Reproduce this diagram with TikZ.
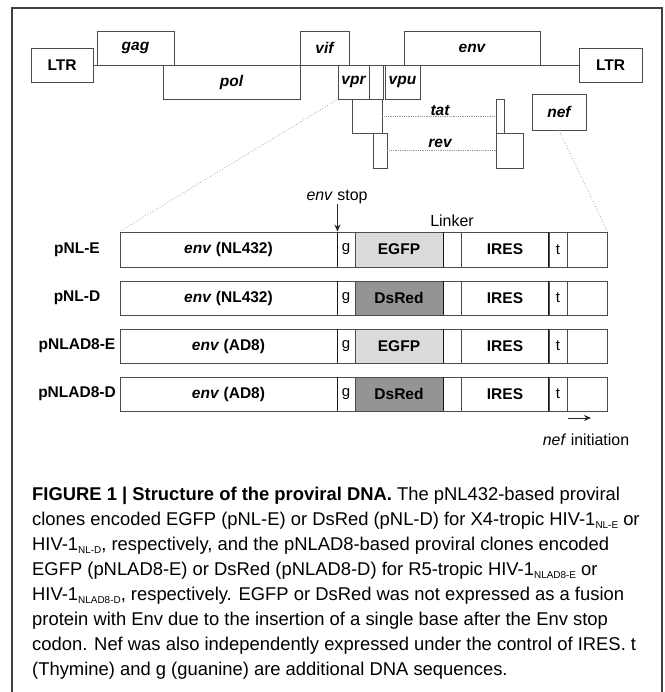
\documentclass[tikz,border=0pt]{standalone}
\usepackage{fontspec}
\setmainfont{Liberation Sans}
\usetikzlibrary{arrows.meta}
\newsavebox\capsbox
\newlength\capsw
\newcommand\capfont{\fontsize{18.5}{21}\selectfont}
\newcommand\labfont{\fontsize{15.5}{17}\selectfont\bfseries}
\newcommand\smfont{\fontsize{16}{18}\selectfont}
\newcommand\gtfont{\fontsize{15}{17}\selectfont}
\newcommand\sbs[1]{\raisebox{-0.4ex}{\fontsize{10}{10}\selectfont #1}}
\newcommand\cl[1]{\scalebox{\capsc}[1]{\capfont #1}}
\newcommand\sml[1]{\scalebox{\capsc}[1]{\smfont #1}}
% #1 options, #2 name, #3 x1, #4 y1, #5 x2, #6 y2, #7 text
\newcommand\bx[7][]{\node[gene,#1,minimum width={(#5-#3)*1pt},minimum height={(#6-#4)*1pt}] (#2) at ({(#3+#5)/2},{(#4+#6)/2}) {#7};}
\begin{document}
\sbox\capsbox{\capfont codon. Nef was also independently expressed under the control of IRES. t}%
\setlength\capsw{\wd\capsbox}%
\pgfmathsetmacro\capsc{604/\capsw}%
\begin{tikzpicture}[x=1pt,y=-1pt,
  gene/.style={draw=black!70, line width=0.9pt, inner sep=0pt, rectangle, font=\labfont},
  plaintext/.style={font=\gtfont\mdseries},
  fpE/.style={fill=black!14},
  fpD/.style={fill=black!42},
  sepline/.style={draw=black!90, line width=1.5pt},
  zoomline/.style={draw=black!35, dotted, line width=0.8pt},
  spliceline/.style={draw=black!40, densely dotted, line width=0.8pt},
  frameline/.style={draw=black!75, line width=1.2pt},
  arr/.style={draw=black!85, line width=0.9pt, -{Stealth[length=7pt,width=6pt]}},
  rowlab/.style={font=\labfont, inner sep=0pt},
  captxt/.style={anchor=base west, inner sep=0pt},
  lbl/.style={inner sep=0pt}]
\useasboundingbox (0,0) rectangle (664,692);
\fill[white] (0,0) rectangle (664,692);
% frame (open at the bottom)
\draw[frameline] (12,692) -- (12,8) -- (662,8) -- (662,692);

% ---------------- genome map ----------------
\bx{ltrL}{31}{48.5}{93}{82.5}{LTR}
\bx{ltrR}{579}{48.5}{642}{82.5}{LTR}
\draw[gene] (ltrL.east) -- (ltrR.west);
\bx[fill=white]{gag}{97}{31}{174}{65.5}{\itshape gag}
\bx[fill=white]{pol}{163}{65.5}{300}{99}{\itshape pol}
\bx[fill=white]{vif}{300}{31}{349}{65.5}{\itshape vif}
\bx[fill=white]{vpr}{338}{65.5}{369}{99}{\itshape vpr}
\bx[fill=white]{vx}{369}{65.5}{383}{99}{}
\bx[fill=white]{vpu}{385}{65.5}{420}{99}{\itshape vpu}
\bx[fill=white]{env}{404}{31}{540}{65.5}{\itshape env}
\bx[fill=white]{tat1}{352}{99}{382}{133}{}
\bx[fill=white]{tat2}{496}{99}{504}{133}{}
\bx[fill=white]{rev1}{373}{133}{387}{168}{}
\bx[fill=white]{rev2}{496}{133}{523}{168}{}
\bx[fill=white]{nef}{532}{94}{586}{130}{\itshape nef}
\draw[spliceline] (tat1.east) -- (tat2.west);
\draw[spliceline] (rev1.east) -- (rev2.west);
\node[lbl, fill=white, inner xsep=3pt, font=\labfont\itshape] (tatl) at (440,111) {tat};
\node[lbl, fill=white, inner xsep=3pt, font=\labfont\itshape] (revl) at (440,143) {rev};

% ---------------- constructs ----------------
\foreach \r/\ya/\yb/\nm/\en/\fp/\fc in {1/232/267/pNL-E/NL432/EGFP/fpE,
    2/281/315/pNL-D/NL432/DsRed/fpD,
    3/329/363/pNLAD8-E/AD8/EGFP/fpE,
    4/377/411/pNLAD8-D/AD8/DsRed/fpD}{
  \bx{r\r-env}{120}{\ya}{337}{\yb}{\textit{env} (\en)}
  \bx[plaintext]{r\r-g}{337}{\ya}{355}{\yb}{g}
  \bx[\fc]{r\r-fp}{355}{\ya}{443}{\yb}{\fp}
  \bx{r\r-lk}{443}{\ya}{461}{\yb}{}
  \bx{r\r-ires}{461}{\ya}{549}{\yb}{IRES}
  \bx[plaintext]{r\r-t}{549}{\ya}{567}{\yb}{t}
  \bx{r\r-end}{567}{\ya}{607}{\yb}{}
  \draw[sepline] (r\r-env.north east) -- (r\r-env.south east);
  \draw[sepline] (r\r-fp.north east) -- (r\r-fp.south east);
  \draw[sepline] (r\r-t.north west) -- (r\r-t.south west);
  \node[rowlab] (row\r) at (77,{(\ya+\yb)/2}) {\nm};
}

% zoom lines
\draw[zoomline] (vpr.south west) -- (r1-env.north west);
\draw[zoomline] (nef.south) -- (r1-end.north east);

% labels and arrows
\node[lbl] (stop) at (337,197) {\sml{\textit{env} stop}};
\draw[arr] (stop.south -| r1-env.north east) -- (r1-env.north east);
\node[lbl] (linker) at (452,221) {\sml{Linker}};
\coordinate (ni1) at (568,418);
\coordinate (ni2) at (591,418);
\draw[arr] (ni1) -- (ni2);
\node[lbl] (nefi) at (586,440) {\sml{\textit{nef} initiation}};

% ---------------- caption ----------------
\node[captxt] (c1) at (32,500) {\cl{\textbf{FIGURE 1 | Structure of the proviral DNA.} The pNL432-based proviral}};
\node[captxt] (c2) at (32,525) {\cl{clones encoded EGFP (pNL-E) or DsRed (pNL-D) for X4-tropic HIV-1\sbs{NL-E} or}};
\node[captxt] (c3) at (32,550) {\cl{HIV-1\sbs{NL-D}, respectively, and the pNLAD8-based proviral clones encoded}};
\node[captxt] (c4) at (32,575) {\cl{EGFP (pNLAD8-E) or DsRed (pNLAD8-D) for R5-tropic HIV-1\sbs{NLAD8-E} or}};
\node[captxt] (c5) at (32,600) {\cl{HIV-1\sbs{NLAD8-D}, respectively. EGFP or DsRed was not expressed as a fusion}};
\node[captxt] (c6) at (32,625) {\cl{protein with Env due to the insertion of a single base after the Env stop}};
\node[captxt] (c7) at (32,650) {\cl{codon. Nef was also independently expressed under the control of IRES. t}};
\node[captxt] (c8) at (32,675) {\cl{(Thymine) and g (guanine) are additional DNA sequences.}};
\end{tikzpicture}
\end{document}
